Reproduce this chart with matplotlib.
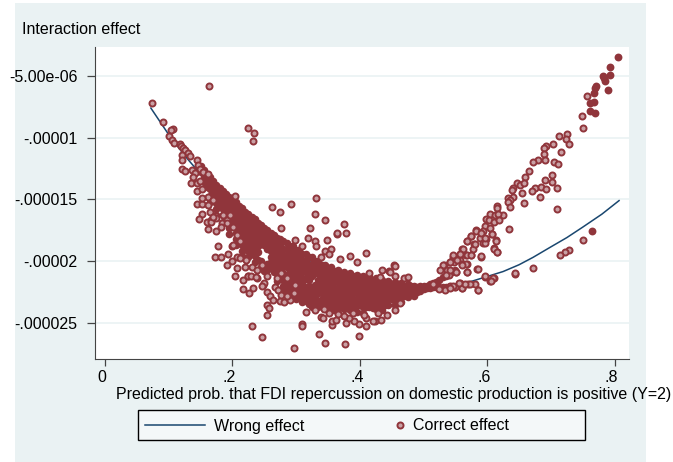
import matplotlib
matplotlib.use("Agg")
import matplotlib.pyplot as plt
import matplotlib.transforms as mtrans
from matplotlib.patches import Rectangle
import numpy as np

plt.rcParams["font.family"] = ["Liberation Sans", "DejaVu Sans"]

# all y values are in millionths
line_x = [.072, .10, .125, .15, .175, .20, .225, .25, .275, .30, .325, .35, .375, .40, .425, .45, .475, .50,
          .525, .55, .575, .597, .625, .65, .672, .70, .725, .75, .78, .807]
line_y = [-7.6, -9.75, -11.45, -12.95, -14.4, -15.65, -16.8, -17.8, -18.7, -19.45, -20.15, -20.7, -21.2, -21.55, -21.85, -22.05, -22.15, -22.15,
          -22.05, -21.9, -21.65, -21.3, -20.85, -20.3, -19.7, -18.85, -18.1, -17.25, -16.2, -15.1]

# dense mass, one list of y per x column
core_cols = [.15, .16, .17, .18, .19, .20, .21, .22, .23, .24, .25, .26, .27, .28, .29, .30, .31, .32,
             .33, .34, .35, .36, .37, .38, .39, .40, .41, .42, .43, .44, .45, .46, .47, .48, .49, .50, .51, .52, .53, .54, .55]
core_vals = [
    [-12.3, -12.8],
    [-13.0, -13.5, -14.0],
    [-13.5, -14.0, -14.4, -14.9],
    [-14.1, -14.6, -15.0, -15.5],
    [-14.6, -15.1, -15.6, -16.0, -16.5],
    [-15.1, -15.6, -16.1, -16.5, -17.0],
    [-15.5, -16.1, -16.5, -17.0, -17.6, -18.0],
    [-16.0, -16.5, -17.0, -17.4, -18.0, -18.5, -19.0],
    [-16.4, -17.0, -17.4, -17.9, -18.4, -18.9, -19.4],
    [-16.9, -17.4, -17.9, -18.3, -18.8, -19.3, -19.9],
    [-17.3, -17.9, -18.3, -18.7, -20.3, -20.8],
    [-17.7, -18.3, -18.7, -19.2, -19.7, -20.1, -20.6],
    [-18.1, -18.7, -19.1, -19.6, -20.0, -20.5, -21.0, -21.6],
    [-18.4, -19.0, -19.5, -19.9, -20.4, -21.0, -21.5, -22.0, -22.5],
    [-18.8, -19.4, -19.8, -20.3, -20.8, -21.3, -21.9, -22.4, -22.9],
    [-19.1, -19.7, -20.2, -20.6, -21.1, -21.6, -22.1, -22.6, -23.1],
    [-19.4, -20.0, -20.5, -20.9, -21.4, -21.85, -22.3, -22.8, -23.3],
    [-19.7, -20.3, -20.7, -21.1, -21.55, -22.0, -22.5, -23.0, -23.5],
    [-20.0, -20.5, -21.0, -21.95, -22.4, -22.9, -23.4, -23.8],
    [-20.3, -20.8, -21.2, -21.7, -22.2, -22.6, -23.1, -23.6],
    [-20.6, -21.1, -21.6, -22.0, -22.5, -22.9, -23.4, -23.9],
    [-20.8, -21.3, -21.7, -22.2, -22.6, -23.1, -23.5, -24.0],
    [-21.0, -21.4, -21.9, -22.3, -22.8, -23.2, -23.7],
    [-21.1, -21.6, -22.0, -22.5, -22.9, -23.4, -23.8],
    [-21.2, -21.7, -22.2, -22.6, -23.1, -23.5, -24.0],
    [-21.3, -21.8, -22.2, -22.7, -23.1, -23.6],
    [-21.4, -21.9, -22.3, -22.8, -23.2, -23.7],
    [-21.5, -22.0, -22.4, -22.9, -23.3, -23.8],
    [-21.7, -22.1, -22.6, -23.0, -23.5],
    [-21.8, -22.2, -22.7, -23.1, -23.6],
    [-21.9, -22.3, -22.7, -23.1],
    [-21.9, -22.3, -22.7, -23.1],
    [-22.0, -22.4, -22.8],
    [-22.0, -22.4, -22.7],
    [-22.1, -22.5],
    [-22.0, -22.3],
    [-21.9, -22.2],
    [-21.7, -22.1],
    [-21.3, -22.1],
    [-21.0, -22.1],
    [-20.7, -22.1],
]

# second pass over the mass, between the first columns
core2_cols = [.155, .165, .175, .185, .195, .205, .215, .225, .235, .245, .255, .265, .275, .285, .295, .305, .315, .325,
              .335, .345, .355, .365, .375, .385, .395, .405, .415, .425, .435, .445, .455, .465, .475, .485, .495, .505, .515, .525, .535, .545]
core2_vals = [
    [-12.6, -13.1, -13.6],
    [-13.2, -13.7, -14.2, -14.7, -15.2],
    [-13.8, -14.3, -14.8, -15.3, -15.8, -16.3],
    [-14.3, -14.8, -15.3, -15.8, -16.3, -16.8],
    [-14.8, -15.3, -15.8, -16.3, -16.8, -17.3, -17.8],
    [-15.2, -15.7, -16.2, -16.7, -17.2, -17.7, -18.2, -18.7],
    [-15.7, -16.2, -16.7, -17.2, -17.7, -18.2, -18.7, -19.2, -19.6],
    [-16.2, -16.7, -17.2, -17.7, -18.2, -18.7, -19.2, -19.7],
    [-16.6, -17.1, -17.6, -18.1, -18.6, -19.1, -19.6, -20.1],
    [-17.1, -17.6, -18.1, -18.6, -20.0, -20.5],
    [-17.5, -18.0, -18.5, -19.0, -20.2, -20.7],
    [-17.9, -18.4, -18.9, -19.4, -19.9, -20.4, -20.9],
    [-18.2, -18.7, -19.2, -19.7, -20.2, -20.7, -21.2],
    [-18.5, -19.0, -19.5, -20.0, -20.5, -21.2, -21.7, -22.2],
    [-18.8, -19.3, -19.8, -20.3, -20.8, -21.4, -21.9, -22.4, -22.9],
    [-19.1, -19.6, -20.1, -20.6, -21.1, -21.6, -22.0, -22.5, -23.0],
    [-19.4, -19.9, -20.4, -20.9, -21.45, -22.1, -22.7, -23.2],
    [-19.7, -20.2, -20.7, -21.2, -22.2, -22.7, -23.2, -23.7],
    [-20.0, -20.5, -21.0, -21.5, -22.1, -22.6, -23.2, -23.7],
    [-20.3, -20.8, -21.3, -21.8, -22.3, -22.8, -23.3, -23.8],
    [-20.5, -21.0, -21.5, -22.0, -22.5, -23.0, -23.5, -24.0],
    [-20.7, -21.2, -21.7, -22.2, -22.7, -23.2, -23.7, -24.2],
    [-20.9, -21.4, -21.9, -22.4, -22.9, -23.4, -23.9],
    [-21.0, -21.5, -22.0, -22.5, -23.0, -23.5, -24.0],
    [-21.1, -21.6, -22.1, -22.6, -23.1, -23.6, -24.1],
    [-21.2, -21.7, -22.2, -22.7, -23.2, -23.7, -24.2],
    [-21.2, -21.7, -22.2, -22.7, -23.2, -23.7],
    [-21.4, -21.9, -22.4, -22.9, -23.4, -23.9],
    [-21.5, -22.0, -22.5, -23.0, -23.5, -24.0],
    [-21.6, -22.1, -22.6, -23.1, -23.6],
    [-21.7, -22.2, -22.7, -23.2, -23.6],
    [-21.8, -22.3, -22.8, -23.3],
    [-21.9, -22.4, -22.9],
    [-22.0, -22.4, -22.8],
    [-22.0, -22.4],
    [-22.0, -22.2],
    [-21.8, -22.1],
    [-21.5, -22.1],
    [-21.2, -22.1],
    [-20.9, -22.1],
]

# solid looking points top right
dark_x = [.806, .793, .793, .781, .783, .785, .789, .771, .769, .767, .767, .761, .762, .77, .764]
dark_y = [-3.5, -4.3, -4.9, -5, -5.2, -5.4, -6.15, -5.8, -5.95, -6.4, -7.1, -7.15, -7.8, -8, -17.6]

# single points, left part
left_x = [.073, .091, .106, .104, .101, .164, .225, .234, .233, .105, .109, .117, .12, .123, .126, .13, .133, .121, .121,
          .144, .146, .149, .154, .162, .121, .126, .136, .141, .138, .135, .144, .149, .145, .153, .144, .153, .162, .17,
          .153, .148, .16, .167, .175, .162, .174, .183, .191, .153, .161, .165, .182, .167, .175, .204,
          .177, .172, .182, .193, .192, .2, .199, .208, .219, .204, .217, .224, .217, .226, .232, .239, .248, .254, .255, .259, .267,
          .255, .257, .254, .231, .246, .264, .275, .281, .29]
left_y = [-7.2, -8.75, -9.3, -9.4, -9.9, -5.85, -9.2, -9.65, -10.3, -10.2, -10.45, -10.5, -10.65, -10.85, -11, -11.25, -11.5, -11.4, -11.8,
          -11.85, -12.2, -12.5, -12.75, -12.95, -12.55, -12.7, -12.6, -12.9, -13.2, -13.7, -13.7, -13.55, -14.35, -14.2, -15.35, -15.35, -14.8, -15.05,
          -16.2, -16.6, -16.8, -16.65, -16.35, -17.4, -17.55, -16.95, -16.65, -14.9, -15.45, -16, -17.2, -16.8, -16.5, -14.7,
          -18.8, -19.65, -19.65, -19.4, -20.35, -18.8, -20, -20.6, -20.5, -21.2, -21.5, -21.2, -22.3, -22.55, -22.15, -21.4, -21.95, -21.2, -22.5, -22.8, -22.1,
          -23.6, -23.8, -24.4, -25.25, -26.15, -23.15, -23.25, -23.35, -23.15]

# more of the left lobe
lobe_x = [.201, .207, .212, .222, .23, .238, .246, .249, .246, .225, .229, .237, .207, .212, .186, .196, .17, .191, .201,
          .27, .277, .272, .277, .285, .298, .285, .296]
lobe_y = [-18.7, -19.65, -19.75, -19.9, -20.5, -20.7, -20.3, -21.8, -22.05, -21.2, -21.2, -21.3, -17.9, -18.4, -16.25, -16.25, -16.4, -16.95, -17.2,
          -21.4, -21, -22.35, -22.75, -21.4, -21.95, -22.85, -22.6]

# single points, middle part
mid_x = [.262, .275, .292, .331, .329, .345, .322, .364, .276, .375, .364, .379, .318, .299, .33, .332, .349, .31, .345, .355, .352,
         .369, .384, .41, .396, .339, .414, .435, .446, .453, .455, .455, .469, .476, .447, .431,
         .31, .31, .336, .346, .377, .399, .297, .339, .343, .357, .356, .362, .379, .398, .41, .391, .383, .424, .433, .42, .41,
         .443, .456, .463, .366, .375, .352, .315, .33, .344, .39, .406, .429]
mid_y = [-15.65, -16, -15.35, -14.9, -16.2, -16.7, -17.3, -17.8, -17.3, -17, -17.75, -17.75, -18.15, -18.3, -18.35, -18.75, -18.3, -18.8, -19.15, -19, -19.45,
         -19.85, -19.6, -19.35, -20.1, -19.65, -20.95, -20.7, -20.8, -20.3, -20.4, -21.25, -21.4, -21.3, -20.85, -21.3,
         -25.1, -25.25, -25.95, -26.65, -26.7, -26.1, -27.05, -24.55, -24.6, -25.2, -24.9, -24.8, -25.05, -25.1, -25.3, -24.85, -24.6, -24.85, -24.75, -24.9, -24.6,
         -24.35, -23.95, -23.4, -24.3, -24.45, -24.2, -24.15, -23.95, -23.85, -24.2, -24.35, -24.2]

# single points, right part
right_x = [.756, .749, .751, .725, .713, .724, .729, .704, .716, .692, .689, .689, .691, .679, .672, .705, .711, .665, .659, .702, .691, .701, .709,
           .647, .652, .658, .641, .639, .675, .684, .67, .692, .654, .683, .641, .632, .636, .633, .658, .636, .709, .616, .615, .625, .605, .612, .617,
           .598, .603, .61, .619, .635, .597, .604, .582, .593, .607, .575, .588, .598, .614, .568, .58, .578, .593, .597, .61, .616, .561, .59, .574,
           .567, .557, .547, .542, .558, .568, .56, .548, .532, .537, .551, .568, .584, .54, .597, .61, .605, .644, .672,
           .751, .729, .722, .715, .585, .581, .57, .561, .557, .549, .542]
right_y = [-6.6, -8.25, -9.25, -9.7, -9.85, -10.1, -10.5, -10.5, -11.15, -10.7, -10.85, -11.35, -11.8, -11.85, -12, -12, -12.15, -12.7, -13.15, -13, -13.4, -13.6, -14.1,
           -13.7, -13.8, -13.7, -14.1, -14.25, -14.05, -14, -14.35, -14.2, -14.45, -14.8, -14.8, -14.85, -15.05, -15.2, -15.3, -15.65, -15.75, -15.5, -15.7, -16.25, -16.15, -16.3, -16.2,
           -16.6, -16.65, -16.8, -16.7, -17.4, -17.15, -17.35, -17.5, -17.6, -17.8, -18, -18.15, -18.2, -18.3, -18.35, -18.6, -19, -18.55, -18.5, -18.95, -19.25, -19, -19.65, -19.5,
           -19.5, -19.4, -19.65, -20.05, -19.9, -20.25, -20.25, -20.1, -20.3, -20.7, -20.85, -20.9, -20.65, -21.1, -21.3, -21.4, -21.65, -21.05, -20.6,
           -18.3, -19.1, -19.3, -19.5, -22.35, -21.9, -21.9, -22.2, -21.8, -22.1, -22]

# more of the branch where the two arms split
arm_x = [.531, .547, .562, .574, .568, .581, .582, .591, .597, .607, .614, .59, .61, .616, .585, .568, .551, .542, .536, .526, .542, .557,
         .568, .574, .567, .56, .552, .596, .609, .606, .644, .561, .585, .573, .565, .555, .547, .534, .525, .515, .542]
arm_y = [-20.3, -19.5, -19, -18, -18.4, -18.6, -17.55, -17.75, -18.15, -17.8, -18.35, -19.6, -19, -19.25, -20.65, -20.85, -20.9, -20.7, -21.1, -20.7, -20.1, -19.4,
         -19.5, -19.5, -20.2, -20.3, -19.9, -21.25, -21.4, -21.6, -21, -22.2, -22.35, -21.9, -21.9, -21.8, -22.05, -22.35, -22.3, -21.9, -22.2]

x_ticks = [0, .2, .4, .6, .8]
x_labels = ["0", ".2", ".4", ".6", ".8"]
y_ticks = [-5e-6, -1e-5, -1.5e-5, -2e-5, -2.5e-5]
y_labels = ["-5.00e-06", "-.00001", "-.000015", "-.00002", "-.000025"]

W, H = 673, 462
bg = "#eaf2f3"
red = "#90353b"
pink = "#c9a0a4"
navy = "#1a476f"
fs = 11.5


def to_y(v):
    return np.array(v) * 1e-6


fig = plt.figure(figsize=(W / 100, H / 100), dpi=100, facecolor="white")
fig.add_artist(Rectangle((15 / W, 0), 631 / W, 459 / H, transform=fig.transFigure, facecolor=bg, edgecolor="none", zorder=-5))

ax = fig.add_axes([95 / W, 1 - 359 / H, 534 / W, 312 / H])
ax.set_xlim(-.0157, .8226)
ax.set_ylim(-2.794e-5, -2.65e-6)
ax.spines["top"].set_visible(False)
ax.spines["right"].set_visible(False)
ax.spines["left"].set_color("#444444")
ax.spines["bottom"].set_color("#444444")
ax.grid(axis="y", color=bg, linewidth=1.2)
ax.set_axisbelow(True)

ax.plot(line_x, to_y(line_y), color=navy, linewidth=1.1, zorder=2)

for cols, vals in [(core_cols, core_vals), (core2_cols, core2_vals)]:
    for i in range(len(cols)):
        xs = [cols[i]] * len(vals[i])
        ax.scatter(xs, to_y(vals[i]), s=30, color=red, linewidths=0, zorder=3)
ax.scatter(dark_x, to_y(dark_y), s=32, color=red, linewidths=0, zorder=3)

for xs, ys in [(left_x, left_y), (lobe_x, lobe_y), (mid_x, mid_y), (right_x, right_y), (arm_x, arm_y)]:
    ax.scatter(xs, to_y(ys), s=19, facecolor=pink, edgecolor=red, linewidths=1.4, zorder=4)

ax.set_xticks(x_ticks)
ax.set_xticklabels(x_labels, fontsize=fs)
ax.set_yticks(y_ticks)
ax.set_yticklabels(y_labels, fontsize=fs)
ax.tick_params(axis="x", length=5, width=.9, color="#444444", pad=3)
ax.tick_params(axis="y", length=5.5, width=.9, color="#444444", pad=7)
shift = mtrans.ScaledTranslation(-3 / 100, 0, fig.dpi_scale_trans)
for lab in ax.get_xticklabels():
    lab.set_transform(lab.get_transform() + shift)

fig.text(22 / W, 1 - 30 / H, "Interaction effect", fontsize=fs, ha="left", va="center")
fig.text(393.5 / W, 1 - 394 / H, "Predicted prob. that FDI repercussion on domestic production is positive (Y=2)",
         fontsize=fs, ha="center", va="center")

# legend drawn by hand, the marker sits close to its label like in stata
leg = fig.add_axes([0, 0, 1, 1], facecolor="none")
leg.set_xlim(0, W)
leg.set_ylim(H, 0)
leg.axis("off")
leg.add_patch(Rectangle((138, 410), 447, 30, facecolor="#f4f8f9", edgecolor="black", linewidth=1))
leg.plot([145, 205], [425, 425], color=navy, linewidth=1.1)
leg.scatter([400], [425], s=19, facecolor=pink, edgecolor=red, linewidths=1.4)
leg.text(214, 426, "Wrong effect", fontsize=fs, ha="left", va="center")
leg.text(413, 426, "Correct effect", fontsize=fs, ha="left", va="center")

fig.savefig("out.png", dpi=100, facecolor="white")
